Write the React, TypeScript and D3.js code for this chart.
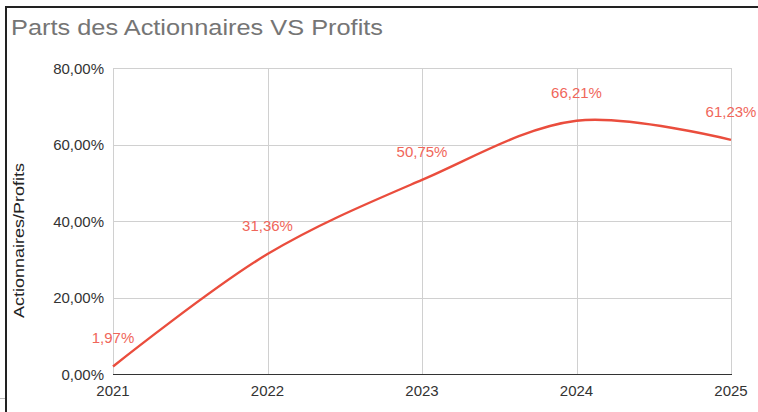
import React from "react";
import * as d3 from "d3";

const years = ["2021", "2022", "2023", "2024", "2025"];
const values = [0.0197, 0.3136, 0.5075, 0.6621, 0.6123];
const valueLabels = ["1,97%", "31,36%", "50,75%", "66,21%", "61,23%"];
const yTicks = [0, 0.2, 0.4, 0.6, 0.8];
const yTickLabels = ["0,00%", "20,00%", "40,00%", "60,00%", "80,00%"];

const W = 758;
const H = 412;
const left = 113;
const right = 731;
const top = 68;
const bottom = 374;

export default function App() {
  const x = d3.scalePoint<string>().domain(years).range([left, right]);
  const y = d3.scaleLinear().domain([0, 0.8]).range([bottom, top]);
  const pts: [number, number][] = years.map((yr, i) => [x(yr)!, y(values[i])]);
  const line = d3.line().curve(d3.curveCatmullRom.alpha(0.5))(pts) || "";
  const font = "'Liberation Sans', Arial, sans-serif";

  return (
    <svg
      width={W}
      height={H}
      style={{ position: "fixed", left: 0, top: 0, background: "#fff" }}
    >
      <rect x={0} y={0} width={W} height={H} fill="#fff" />
      {/* frame */}
      <line x1={5} y1={7} x2={W} y2={7} stroke="#222" strokeWidth={2} />
      <line x1={6} y1={6} x2={6} y2={H} stroke="#222" strokeWidth={2} />
      <line x1={0} y1={398.5} x2={5} y2={398.5} stroke="#bbb" strokeWidth={1} />

      <text
        x={11}
        y={35}
        fontFamily={font}
        fontSize={22}
        fill="#757575"
        textLength={372}
        lengthAdjust="spacingAndGlyphs"
      >
        Parts des Actionnaires VS Profits
      </text>

      {/* gridlines */}
      {yTicks.map((t) => (
        <line
          key={"gy" + t}
          x1={left}
          x2={right}
          y1={Math.round(y(t)) + 0.5}
          y2={Math.round(y(t)) + 0.5}
          stroke="#d0d0d0"
          strokeWidth={1}
        />
      ))}
      {years.map((yr) => (
        <line
          key={"gx" + yr}
          x1={Math.round(x(yr)!) + 0.5}
          x2={Math.round(x(yr)!) + 0.5}
          y1={top}
          y2={bottom}
          stroke="#d0d0d0"
          strokeWidth={1}
        />
      ))}
      <line x1={left} x2={right + 1} y1={bottom + 0.5} y2={bottom + 0.5} stroke="#333" strokeWidth={1.2} />

      {/* y tick labels */}
      {yTicks.map((t, i) => (
        <text
          key={"yt" + t}
          x={104}
          y={y(t) + 5.5}
          textAnchor="end"
          fontFamily={font}
          fontSize={15}
          fill="#333"
        >
          {yTickLabels[i]}
        </text>
      ))}
      {/* x tick labels */}
      {years.map((yr) => (
        <text
          key={"xt" + yr}
          x={x(yr)!}
          y={395.5}
          textAnchor="middle"
          fontFamily={font}
          fontSize={15}
          fill="#333"
        >
          {yr}
        </text>
      ))}

      <text
        transform={`translate(24, 240.5) rotate(-90)`}
        textAnchor="middle"
        fontFamily={font}
        fontSize={15.5}
        fill="#222"
        textLength={155}
        lengthAdjust="spacingAndGlyphs"
      >
        Actionnaires/Profits
      </text>

      <path d={line} fill="none" stroke="#ea4d3d" strokeWidth={2.4} />

      {pts.map((p, i) => (
        <text
          key={"lbl" + i}
          x={p[0]}
          y={p[1] - 23}
          textAnchor="middle"
          fontFamily={font}
          fontSize={15}
          fill="#f0665a"
        >
          {valueLabels[i]}
        </text>
      ))}
    </svg>
  );
}
